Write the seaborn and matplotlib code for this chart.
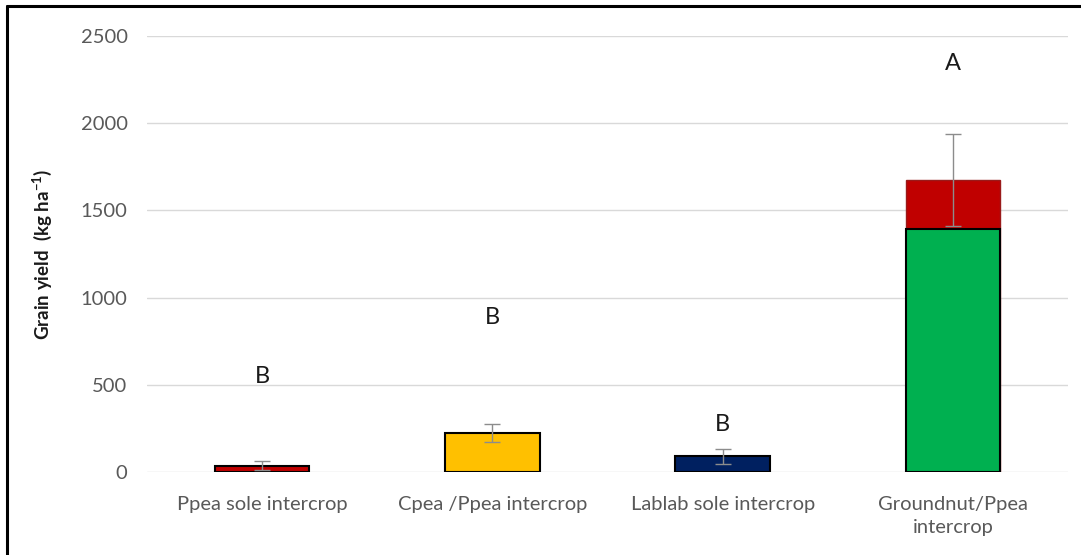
import matplotlib
matplotlib.use("Agg")
import matplotlib.pyplot as plt
import seaborn as sns
import pandas as pd
from matplotlib.lines import Line2D

categories = ["Ppea sole intercrop", "Cpea /Ppea intercrop", "Lablab sole intercrop", "Groundnut/Ppea\nintercrop"]
total_yield = [37, 225, 90, 1675]
groundnut_part = [0, 0, 0, 1393]
errors = [25, 50, 44, 265]
letters = ["B", "B", "B", "A"]
letter_y = [550, 885, 270, 2345]
bar_colors = ["#C00000", "#FFC000", "#002060", "#C00000"]

sns.set_theme(style="white")
plt.rcParams['font.family'] = ['Lato', 'DejaVu Sans']

fig = plt.figure(figsize=(10.81, 5.55), dpi=100)
ax = fig.add_axes([0.136, 0.1495, 0.852, 0.7855])

df = pd.DataFrame({"cat": categories, "total": total_yield, "gn": groundnut_part})
sns.barplot(data=df, x="cat", y="total", hue="cat", palette=bar_colors, legend=False,
            saturation=1, width=0.41, edgecolor="black", linewidth=1.5, ax=ax, zorder=2)
sns.barplot(data=df, x="cat", y="gn", color="#00B050", saturation=1, width=0.41,
            edgecolor="black", linewidth=1.5, ax=ax, zorder=3)
for p in ax.patches:
    if p.get_height() == 0:
        p.set_visible(False)
# upper (red) part of the groundnut stack has a soft edge in the reference
ax.patches[3].set_edgecolor("#9a1a1a")
ax.patches[3].set_linewidth(1.0)

xs = list(range(len(categories)))
ax.errorbar(xs, total_yield, yerr=errors, fmt="none", ecolor="#8C8C8C",
            elinewidth=1.0, capsize=6, capthick=1.0, zorder=4)

for x, t, y in zip(xs, letters, letter_y):
    ax.text(x, y, t, ha="center", va="center", fontsize=17, color="#1a1a1a")

ax.set_ylim(0, 2500)
ax.set_xlim(-0.5, 3.5)
ax.set_yticks([0, 500, 1000, 1500, 2000, 2500])
ax.yaxis.grid(True, color="#D9D9D9", linewidth=1.0)
ax.set_axisbelow(True)
for s in ax.spines.values():
    s.set_visible(False)
ax.tick_params(axis="both", length=0, labelsize=14.5, labelcolor="#595959")
ax.tick_params(axis="y", pad=14)
ax.tick_params(axis="x", pad=17)
for lab in ax.get_xticklabels():
    lab.set_linespacing(1.45)
ax.set_xlabel("")
ax.set_ylabel(r"Grain yield  (kg ha$^{\mathregular{-1}}$)", fontsize=13.5,
              fontweight="bold", color="#1a1a1a", labelpad=19)

fig.add_artist(Line2D([0.0065, 0.0065], [0, 0.99], transform=fig.transFigure, color="black", linewidth=2.2))
fig.add_artist(Line2D([0.0065, 1.0], [0.99, 0.99], transform=fig.transFigure, color="black", linewidth=2.2))

fig.savefig("out.png", dpi=100)
